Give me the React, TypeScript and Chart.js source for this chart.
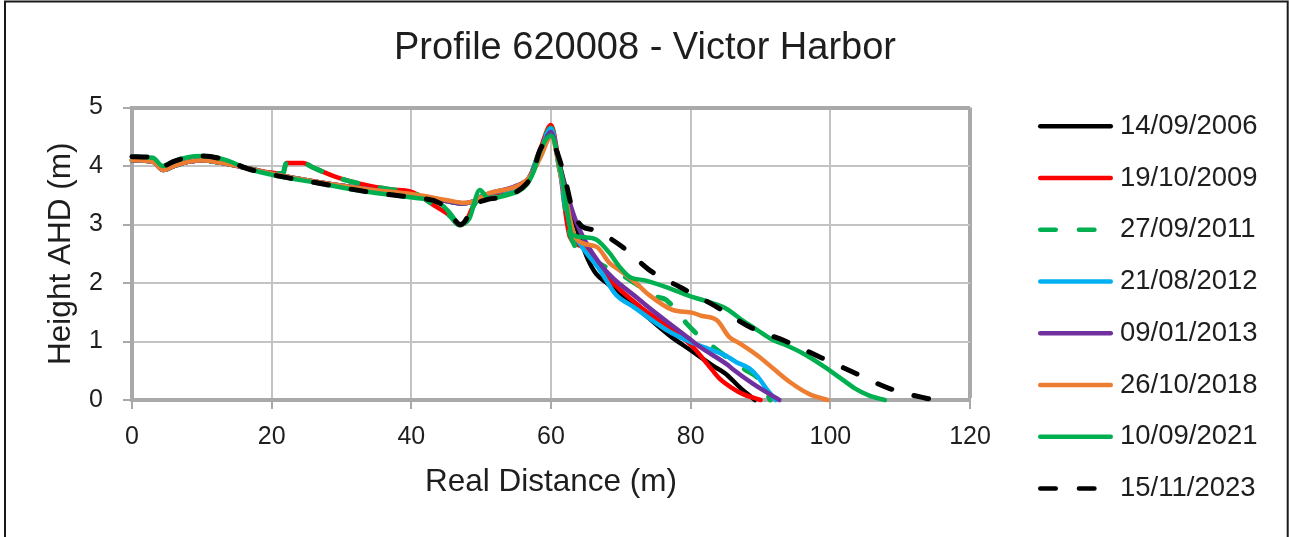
import React, { useEffect, useRef } from "react";
import { Chart, registerables } from "chart.js";

Chart.register(...registerables);

const FONT = '"Liberation Sans", Arial, sans-serif';
const TEXT_COLOR = "#1e1e1e";

const chartTitle = "Profile 620008 - Victor Harbor";
const xAxisTitle = "Real Distance (m)";
const yAxisTitle = "Height AHD (m)";

const xTickValues = [0, 20, 40, 60, 80, 100, 120];
const yTickValues = [0, 1, 2, 3, 4, 5];

const seriesLabels = [
  "14/09/2006",
  "19/10/2009",
  "27/09/2011",
  "21/08/2012",
  "09/01/2013",
  "26/10/2018",
  "10/09/2021",
  "15/11/2023",
];
const seriesColors = ["#000000", "#FF0000", "#00B050", "#00B0F0", "#7030A0", "#ED7D31", "#00B050", "#000000"];
const seriesDashed = [false, false, true, false, false, false, false, true];

const x2006 = [0, 3, 4.5, 6, 8, 10, 13, 17, 20, 27, 34, 40, 45, 47.5, 49, 51, 55, 57, 58.5, 60, 61.5, 63, 64.5, 65.3, 66.5, 68, 71, 74, 77, 80, 83, 85, 87, 89.2];
const y2006 = [4.1, 4.07, 3.93, 4.0, 4.07, 4.1, 4.05, 3.95, 3.87, 3.72, 3.6, 3.5, 3.4, 3.36, 3.4, 3.52, 3.64, 3.82, 4.2, 4.55, 3.9, 3.2, 2.65, 2.4, 2.15, 2.0, 1.72, 1.4, 1.1, 0.85, 0.6, 0.45, 0.22, 0];

const x2009 = [0, 3, 4.5, 6, 8, 10, 13, 17, 21.6, 22.1, 24.5, 26, 29.5, 33.6, 37, 40.2, 43.6, 45.5, 46.9, 47.8, 48.8, 50, 53, 56, 57.2, 58.5, 60, 61.2, 62.7, 64.5, 67.9, 72.7, 77.4, 80.3, 83.1, 84.1, 86, 87.5, 90];
const y2009 = [4.1, 4.07, 3.93, 4.0, 4.07, 4.1, 4.05, 3.95, 3.87, 4.05, 4.05, 3.97, 3.8, 3.67, 3.6, 3.55, 3.3, 3.15, 2.99, 3.05, 3.3, 3.48, 3.55, 3.66, 3.88, 4.3, 4.7, 3.99, 2.79, 2.62, 2.11, 1.6, 1.2, 0.91, 0.51, 0.37, 0.2, 0.1, 0];

const x2011 = [0, 3, 4.5, 6, 8, 10, 13, 17, 21.6, 22.1, 24.5, 26, 29.5, 33.6, 37, 40.2, 43.6, 45.5, 46.9, 47.8, 48.8, 50, 53, 56, 57.2, 58.5, 60, 61.2, 62.7, 66, 70, 73, 75, 76.5, 79.4, 80.8, 83.2, 85.1, 87.9, 89.4, 90.5, 91.4];
const y2011 = [4.1, 4.07, 3.93, 4.0, 4.07, 4.1, 4.05, 3.95, 3.87, 4.05, 4.05, 3.97, 3.8, 3.67, 3.6, 3.55, 3.3, 3.15, 2.99, 3.05, 3.3, 3.48, 3.55, 3.66, 3.88, 4.3, 4.65, 3.95, 2.85, 2.4, 2.15, 1.92, 1.77, 1.71, 1.31, 1.14, 0.91, 0.74, 0.51, 0.4, 0.2, 0];

const x2012 = [0, 3, 4.5, 6, 8, 10, 13, 17, 20, 27, 34, 40, 45, 47.5, 49, 51, 55, 57, 58.5, 60, 61.2, 62.7, 64.1, 67, 69.3, 71.7, 76.5, 79.8, 82, 85, 86.5, 88.4, 89.6, 90.8, 92.2];
const y2012 = [4.1, 4.07, 3.93, 4.0, 4.07, 4.1, 4.05, 3.95, 3.87, 3.72, 3.6, 3.5, 3.4, 3.36, 3.4, 3.52, 3.64, 3.82, 4.25, 4.64, 3.95, 3.0, 2.68, 2.22, 1.8, 1.6, 1.2, 1.0, 0.9, 0.76, 0.65, 0.54, 0.4, 0.2, 0];

const x2013 = [0, 3, 4.5, 6, 8, 10, 13, 17, 20, 27, 34, 40, 45, 47.5, 49, 51, 55, 57, 58.5, 60, 61.3, 63.6, 66.8, 72.7, 79.8, 81.3, 85.3, 86, 88.9, 92.7];
const y2013 = [4.1, 4.07, 3.93, 4.0, 4.07, 4.1, 4.05, 3.95, 3.87, 3.72, 3.6, 3.5, 3.4, 3.36, 3.4, 3.52, 3.66, 3.82, 4.22, 4.58, 3.95, 3.05, 2.36, 1.71, 1.05, 0.91, 0.6, 0.53, 0.28, 0];

const x2018 = [0, 3, 4.5, 6, 8, 10, 13, 17, 20, 27, 34, 40, 45, 47.5, 49, 51, 55, 57, 58.5, 60, 61.5, 63.6, 66.5, 68.4, 69.8, 71.7, 74, 77.4, 80.3, 81.5, 83.8, 85.5, 87, 89.8, 92, 94.4, 97, 99.6];
const y2018 = [4.1, 4.07, 3.93, 4.0, 4.07, 4.1, 4.05, 3.95, 3.87, 3.72, 3.6, 3.52, 3.42, 3.37, 3.4, 3.53, 3.65, 3.82, 4.15, 4.5, 3.8, 2.76, 2.62, 2.34, 2.22, 2.05, 1.8, 1.54, 1.49, 1.44, 1.36, 1.08, 0.97, 0.74, 0.52, 0.29, 0.1, 0];

const x2021 = [0, 3, 4.4, 6, 8, 10, 13.5, 16.4, 19.7, 27, 33.6, 40.2, 44, 45.5, 47, 48.3, 49.8, 51, 53.6, 56.5, 57.5, 58.6, 60, 61.5, 63.1, 65, 66.5, 68.4, 69.8, 71.2, 73.6, 76.5, 79.8, 83, 85.1, 87.2, 89.5, 91.7, 94, 96.5, 99, 101.5, 103.5, 105.5, 107.8];
const y2021 = [4.16, 4.14, 4.0, 4.08, 4.15, 4.17, 4.1, 3.96, 3.86, 3.7, 3.56, 3.46, 3.37, 3.2, 3.0, 3.1, 3.59, 3.45, 3.5, 3.68, 3.9, 4.3, 4.52, 3.85, 2.82, 2.78, 2.74, 2.51, 2.28, 2.11, 2.04, 1.93, 1.78, 1.66, 1.56, 1.38, 1.2, 1.03, 0.92, 0.77, 0.58, 0.37, 0.2, 0.08, 0];

const x2023 = [0, 3, 4.4, 6, 8, 10, 13.5, 16.4, 19.7, 27, 33.6, 40.2, 44, 45.5, 47, 47.9, 48.4, 50.7, 53.6, 56.5, 57.4, 58.4, 59.8, 61.7, 63.1, 64.5, 66, 70.2, 74.1, 78.8, 83.6, 88.6, 93.7, 98.4, 103.2, 108.4, 113.7, 115];
const y2023 = [4.16, 4.14, 4.0, 4.08, 4.15, 4.17, 4.1, 3.96, 3.86, 3.7, 3.56, 3.46, 3.37, 3.2, 3.0, 3.1, 3.25, 3.42, 3.48, 3.7, 3.87, 4.27, 4.44, 3.93, 3.25, 2.96, 2.91, 2.62, 2.22, 1.91, 1.6, 1.24, 1.0, 0.74, 0.48, 0.2, 0.03, 0];

const seriesX = [x2006, x2009, x2011, x2012, x2013, x2018, x2021, x2023];
const seriesY = [y2006, y2009, y2011, y2012, y2013, y2018, y2021, y2023];

const GRID_COLOR = "#c3c3c3";
const FRAME_COLOR = "#a9a9a9";

const sideLegend = {
  id: "sideLegend",
  afterDraw(chart: any) {
    const ctx = chart.ctx as CanvasRenderingContext2D;
    ctx.save();
    chart.data.datasets.forEach((ds: any, i: number) => {
      const y = 126.3 + i * 51.75;
      ctx.beginPath();
      ctx.strokeStyle = ds.borderColor;
      ctx.lineWidth = 4.5;
      ctx.lineCap = "round";
      ctx.setLineDash(ds.borderDash && ds.borderDash.length ? [15.5, 23.2] : []);
      ctx.moveTo(1040.25, y);
      ctx.lineTo(1110.75, y);
      ctx.stroke();
      ctx.setLineDash([]);
      ctx.fillStyle = TEXT_COLOR;
      ctx.font = `27.5px ${FONT}`;
      ctx.textBaseline = "middle";
      ctx.textAlign = "left";
      ctx.fillText(ds.label, 1120, y);
    });
    // outer frame
    ctx.strokeStyle = "#1a1a1a";
    ctx.lineWidth = 2;
    ctx.strokeRect(5, 1.5, 1282.7, 600);
    ctx.restore();
  },
};

export default function App() {
  const canvasRef = useRef<HTMLCanvasElement | null>(null);

  useEffect(() => {
    if (!canvasRef.current) return;
    Chart.defaults.font.family = FONT;
    const datasets = seriesLabels.map((label, i) => ({
      label,
      data: seriesX[i].map((x, j) => ({ x, y: seriesY[i][j] })),
      borderColor: seriesColors[i],
      backgroundColor: seriesColors[i],
      borderWidth: seriesDashed[i] ? 5 : 4.5,
      borderDash: seriesDashed[i] ? [15, 23] : [],
      borderCapStyle: "round" as const,
      borderJoinStyle: "round" as const,
      pointRadius: 0,
      pointHoverRadius: 0,
      fill: false,
      cubicInterpolationMode: "monotone" as const,
      clip: false as any,
      order: seriesLabels.length - 1 - i,
      xAxisID: "x",
      yAxisID: "y",
    }));

    const chart = new Chart(canvasRef.current, {
      type: "line",
      data: { datasets },
      plugins: [sideLegend],
      options: {
        animation: false,
        responsive: false,
        devicePixelRatio: 1,
        parsing: true,
        layout: { padding: { left: 0, right: 0, top: 0, bottom: 0 } },
        plugins: {
          legend: { display: false },
          tooltip: { enabled: false },
          title: {
            display: true,
            text: chartTitle,
            color: TEXT_COLOR,
            font: { family: FONT, size: 38, weight: "normal" as any, lineHeight: 1.2 },
            padding: { top: 25.7, bottom: 36.2 },
          },
        },
        scales: {
          x: {
            type: "linear",
            position: "bottom",
            min: 0,
            max: 120,
            afterBuildTicks: (s: any) => {
              s.ticks = xTickValues.map((v) => ({ value: v }));
            },
            afterFit: (s: any) => {
              s.height = 137;
            },
            ticks: {
              padding: 13,
              color: TEXT_COLOR,
              font: { family: FONT, size: 25 },
              maxRotation: 0,
            },
            grid: {
              color: (c: any) => (c.tick && c.tick.value === 120 ? FRAME_COLOR : GRID_COLOR),
              lineWidth: (c: any) => (c.tick && c.tick.value === 120 ? 4 : 2),
              tickLength: 9,
              tickWidth: 2,
              tickColor: FRAME_COLOR,
            },
            border: { display: true, color: FRAME_COLOR, width: 4 },
            title: {
              display: true,
              text: xAxisTitle,
              color: TEXT_COLOR,
              font: { family: FONT, size: 31.5, lineHeight: 1.2 },
              padding: { top: 0, bottom: 36 },
            },
          },
          y: {
            type: "linear",
            position: "left",
            min: 0,
            max: 5,
            afterBuildTicks: (s: any) => {
              s.ticks = yTickValues.map((v) => ({ value: v }));
            },
            afterFit: (s: any) => {
              s.width = 132;
            },
            ticks: {
              padding: 20,
              color: TEXT_COLOR,
              font: { family: FONT, size: 25 },
            },
            grid: {
              color: (c: any) => (c.tick && c.tick.value === 5 ? FRAME_COLOR : GRID_COLOR),
              lineWidth: (c: any) => (c.tick && c.tick.value === 5 ? 4 : 2),
              tickLength: 9,
              tickWidth: 2,
              tickColor: FRAME_COLOR,
            },
            border: { display: true, color: FRAME_COLOR, width: 4 },
            title: {
              display: true,
              text: yAxisTitle,
              color: TEXT_COLOR,
              font: { family: FONT, size: 31.5, lineHeight: 1.2 },
              padding: { top: 42.2, bottom: 0 },
            },
          },
          legendSpace: {
            type: "linear",
            position: "right",
            display: true,
            ticks: { display: false },
            grid: { display: false, drawTicks: false },
            border: { display: false },
            title: { display: false },
            afterFit: (s: any) => {
              s.width = 320;
            },
          },
        },
      } as any,
    });
    return () => chart.destroy();
  }, []);

  return (
    <div style={{ position: "absolute", left: 0, top: 0, width: 1290, height: 537, background: "#ffffff" }}>
      <canvas ref={canvasRef} width={1290} height={537} style={{ display: "block", width: 1290, height: 537 }} />
    </div>
  );
}
